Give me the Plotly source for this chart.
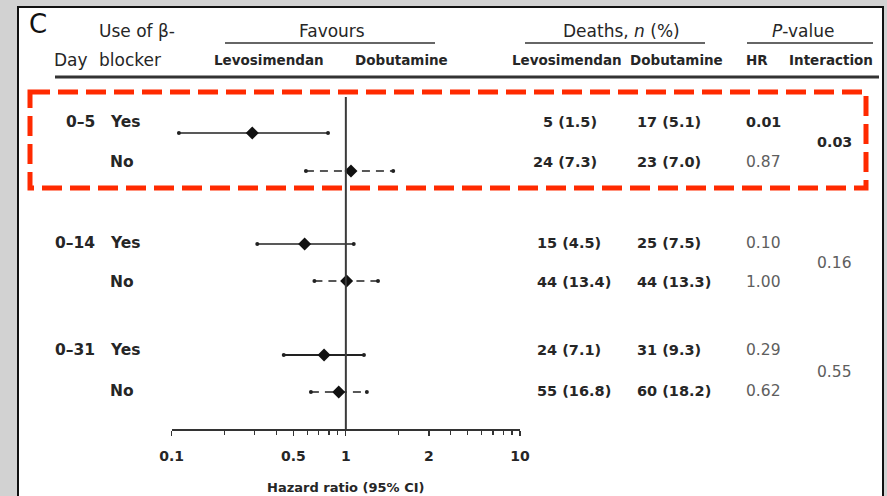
import plotly.graph_objects as go

# ---------------- data ----------------
days = ["0–5", "0–14", "0–31"]
beta_use = ["Yes", "No", "Yes", "No", "Yes", "No"]
hr = [0.29, 1.07, 0.58, 1.01, 0.75, 0.91]
ci_lo = [0.11, 0.59, 0.31, 0.66, 0.44, 0.63]
ci_hi = [0.79, 1.87, 1.11, 1.53, 1.27, 1.32]
deaths_levo = ["5 (1.5)", "24 (7.3)", "15 (4.5)", "44 (13.4)", "24 (7.1)", "55 (16.8)"]
deaths_dobu = ["17 (5.1)", "23 (7.0)", "25 (7.5)", "44 (13.3)", "31 (9.3)", "60 (18.2)"]
p_hr = ["0.01", "0.87", "0.10", "1.00", "0.29", "0.62"]
p_interaction = ["0.03", "0.16", "0.55"]
tick_vals = [0.1, 0.5, 1, 3, 10]
tick_text = ["0.1", "0.5", "1", "2", "10"]
minor_vals = [0.2, 0.3, 0.4, 0.5, 0.6, 0.7, 0.8, 0.9, 2, 3, 4, 5, 6, 7, 8, 9]

# ---------------- layout helpers (pixel positions) ----------------
W, H = 887, 496
FONT = "DejaVu Sans, Liberation Sans, Arial"
DARK = "#262626"
LIGHT = "#5e5e5e"


def X(px):
    return px / W


row_text_y = [122, 162, 243, 282, 350, 391]
row_mark_y = [133, 171, 244, 281, 355, 392]
inter_y = [142, 263, 372]
line_dash = ["solid", "8px,6px", "solid", "8px,6px", "solid", "8px,6px"]
line_w = [1.3, 1.3, 1.3, 1.3, 2.2, 1.3]
levo_anchor = [("right", 599), ("right", 599), ("left", 535), ("left", 535), ("left", 535), ("left", 535)]
phr_bold = [True, False, False, False, False, False]
pint_bold = [True, False, False]
AXIS_Y = 429

fig = go.Figure()

# CI lines with end caps
for i in range(len(hr)):
    fig.add_trace(go.Scatter(
        x=[ci_lo[i], ci_hi[i]], y=[row_mark_y[i]] * 2,
        mode="lines+markers",
        line=dict(color="#222", width=line_w[i], dash=line_dash[i]),
        marker=dict(symbol="circle", size=4, color="#222"),
        showlegend=False, hoverinfo="skip"))
# point estimates
fig.add_trace(go.Scatter(
    x=hr, y=row_mark_y, mode="markers",
    marker=dict(symbol="diamond", size=10, color="#111"),
    showlegend=False, hoverinfo="skip"))

shapes = []
# white panel with black border
shapes.append(dict(type="rect", xref="paper", yref="y", x0=X(18), x1=X(883), y0=7, y1=505,
                   fillcolor="white", line=dict(color="#111", width=2), layer="below"))
# header underlines
shapes.append(dict(type="line", xref="paper", yref="y", x0=X(55), x1=X(879), y0=77, y1=77,
                   line=dict(color="#333", width=3)))
for a, b in [(225, 435), (525, 705), (747, 873)]:
    shapes.append(dict(type="line", xref="paper", yref="y", x0=X(a), x1=X(b), y0=43, y1=43,
                       line=dict(color="#333", width=1.5)))
# reference line at HR = 1
shapes.append(dict(type="line", xref="x", yref="y", x0=1, x1=1, y0=97, y1=AXIS_Y,
                   line=dict(color="#3a3a3a", width=2)))
# red dashed highlight box
shapes.append(dict(type="rect", xref="paper", yref="y", x0=X(30), x1=X(866), y0=92, y1=188,
                   line=dict(color="#ff2a00", width=5, dash="20px,8px")))

ann = []


def txt(x, y, s, size=16, color=DARK, xanchor="center", bold=False, xref="paper"):
    if bold:
        s = "<b>" + s + "</b>"
    ann.append(dict(x=x if xref != "paper" else X(x), y=y, xref=xref, yref="y", text=s,
                    showarrow=False, xanchor=xanchor, yanchor="middle",
                    font=dict(family=FONT, size=size, color=color)))


# headers
txt(38, 24, "C", size=26, color="#111")
txt(97, 31, "Use of β-", size=17, xanchor="left")
txt(332, 31, "Favours", size=17)
txt(52, 60, "Day", size=17, xanchor="left")
txt(97, 60, "blocker", size=17, xanchor="left")
txt(269, 60, "Levosimendan", size=13.5, bold=True)
txt(401, 60, "Dobutamine", size=13.5, bold=True)
txt(621, 31, "Deaths, <i>n</i> (%)", size=17)
txt(803, 31, "<i>P</i>-value", size=17)
txt(567, 60, "Levosimendan", size=13.5, bold=True)
txt(676, 60, "Dobutamine", size=13.5, bold=True)
txt(757, 60, "HR", size=13.5, bold=True)
txt(831, 60, "Interaction", size=13.5, bold=True)

# row labels
for k, d in enumerate(days):
    txt(97, row_text_y[2 * k], d, size=15.5, xanchor="right", bold=True)
for i, b in enumerate(beta_use):
    txt(108, row_text_y[i], b, size=15.5, xanchor="left", bold=True)

# table values
for i in range(len(hr)):
    anc, xx = levo_anchor[i]
    txt(xx, row_text_y[i], deaths_levo[i], size=14.5, xanchor=anc, bold=True)
    txt(635, row_text_y[i], deaths_dobu[i], size=14.5, xanchor="left", bold=True)
    if phr_bold[i]:
        txt(783, row_text_y[i], p_hr[i], size=14.3, xanchor="right", bold=True)
    else:
        txt(783, row_text_y[i], p_hr[i], size=15.5, xanchor="right", color=LIGHT)
for k, p in enumerate(p_interaction):
    if pint_bold[k]:
        txt(834, inter_y[k], p, size=14.3, bold=True)
    else:
        txt(834, inter_y[k], p, size=15.5, color=LIGHT)

# axis title
ann.append(dict(x=0.5, xref="x domain", y=487, yref="y", text="<b>Hazard ratio (95% CI)</b>",
                showarrow=False, xanchor="center", yanchor="middle",
                font=dict(family=FONT, size=13, color=DARK)))

fig.update_layout(
    width=W, height=H, autosize=False,
    margin=dict(l=0, r=0, t=0, b=0, pad=0, autoexpand=False),
    paper_bgcolor="#d2d2d2", plot_bgcolor="rgba(0,0,0,0)",
    shapes=shapes, annotations=ann,
    xaxis=dict(type="log", range=[-1, 1], domain=[171.7 / W, 520 / W],
               anchor="free", position=1 - AXIS_Y / H, automargin=False,
               showline=True, linecolor="#333", linewidth=1.5,
               ticks="outside", ticklen=5, tickwidth=1.2, tickcolor="#333",
               tickmode="array", tickvals=tick_vals,
               ticktext=["<b>" + t + "</b>" for t in tick_text],
               tickfont=dict(family=FONT, size=14, color=DARK),
               ticklabelstandoff=9,
               minor=dict(tickmode="array", tickvals=minor_vals, ticks="outside",
                          ticklen=4, tickwidth=1.2, tickcolor="#333", showgrid=False),
               showgrid=False, zeroline=False, fixedrange=True),
    yaxis=dict(range=[H, 0], domain=[0, 1], visible=False, fixedrange=True,
               automargin=False),
    showlegend=False,
)

fig.write_html("out.html",
               config={"displayModeBar": False, "staticPlot": True},
               post_script="document.body.style.margin='0';"
                           "document.body.style.overflow='hidden';")
